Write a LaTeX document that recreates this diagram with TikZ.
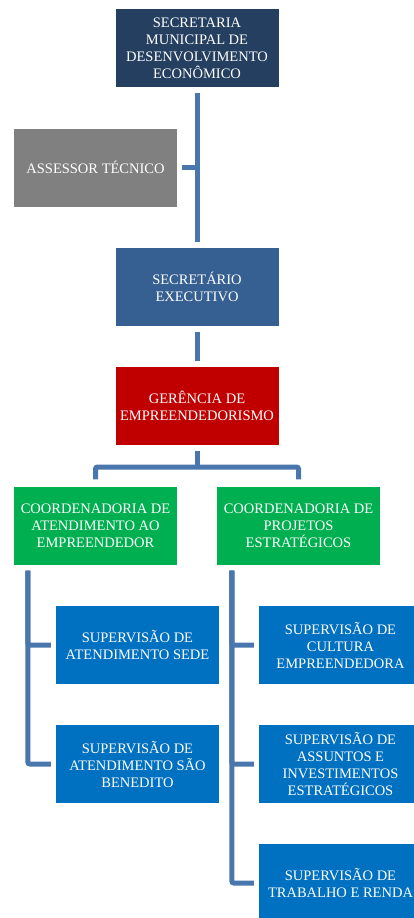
\documentclass[tikz,border=0pt]{standalone}
\usepackage{fontspec}
\setmainfont{Liberation Serif}
\definecolor{navy}{HTML}{243F60}
\definecolor{execblue}{HTML}{366092}
\definecolor{gerred}{HTML}{C00000}
\definecolor{coordgreen}{HTML}{00B050}
\definecolor{supblue}{HTML}{0070C0}
\definecolor{asesgray}{HTML}{808080}
\definecolor{linkblue}{HTML}{4A76AE}

\begin{document}
\begin{tikzpicture}[x=1pt,y=-1pt,
	box/.style={minimum width=163pt,minimum height=78pt,inner sep=0pt,align=center,text=white,font=\fontsize{14.5}{17}\selectfont},
	conn/.style={draw=linkblue,line width=5pt,rounded corners=2pt}]
	\useasboundingbox (0,0) rectangle (414,918);
	\fill[white] (0,0) rectangle (414,918);
	
	%TOP
	\node[box,fill=navy] (sec) at (197,48) {SECRETARIA\\MUNICIPAL DE\\DESENVOLVIMENTO\\ECONÔMICO};
	\node[box,fill=asesgray] (ases) at (95.5,167.5) {ASSESSOR TÉCNICO};
	\node[box,fill=execblue] (exec) at (197,286.5) {SECRETÁRIO\\EXECUTIVO};
	\node[box,fill=gerred] (ger) at (197,406) {GERÊNCIA DE\\EMPREENDEDORISMO};
	
	%COORDENADORIAS
	\node[box,fill=coordgreen] (coordA) at (95.5,525.5) {COORDENADORIA DE\\ATENDIMENTO AO\\EMPREENDEDOR};
	\node[box,fill=coordgreen] (coordP) at (298.5,525.5) {COORDENADORIA DE\\PROJETOS\\ESTRATÉGICOS};
	
	%SUPERVISOES
	\node[box,fill=supblue] (supSede) at (137.5,645) {SUPERVISÃO DE\\ATENDIMENTO SEDE};
	\node[box,fill=supblue] (supSB) at (137.5,764) {SUPERVISÃO DE\\ATENDIMENTO SÃO\\BENEDITO};
	\node[box,fill=supblue] (supCult) at (340.5,645) {SUPERVISÃO DE\\CULTURA\\EMPREENDEDORA};
	\node[box,fill=supblue] (supAss) at (340.5,764) {SUPERVISÃO DE\\ASSUNTOS E\\INVESTIMENTOS\\ESTRATÉGICOS};
	\node[box,fill=supblue] (supTrab) at (340.5,883) {SUPERVISÃO DE\\TRABALHO E RENDA};
	
	%CONNECTORS
	\draw[conn] ([yshift=-6pt]sec.south) -- ([yshift=5pt]exec.north);
	\draw[conn] ([xshift=5pt]ases.east) -- (ases.east -| sec.south);
	\draw[conn] ([yshift=-6pt]exec.south) -- ([yshift=6pt]ger.north);
	\coordinate (split) at (197,467);
	\draw[conn] ([yshift=-6pt]ger.south) -- (split);
	\draw[conn] ([yshift=7pt]coordA.north) |- (split) -| ([yshift=7pt]coordP.north);
	\foreach \s in {supSede,supSB}
		\draw[conn] ([xshift=14pt,yshift=-6pt]coordA.south west) |- ([xshift=-5pt]\s.west);
	\foreach \s in {supCult,supAss,supTrab}
		\draw[conn] ([xshift=15pt,yshift=-6pt]coordP.south west) |- ([xshift=-5pt]\s.west);
\end{tikzpicture}
\end{document}
